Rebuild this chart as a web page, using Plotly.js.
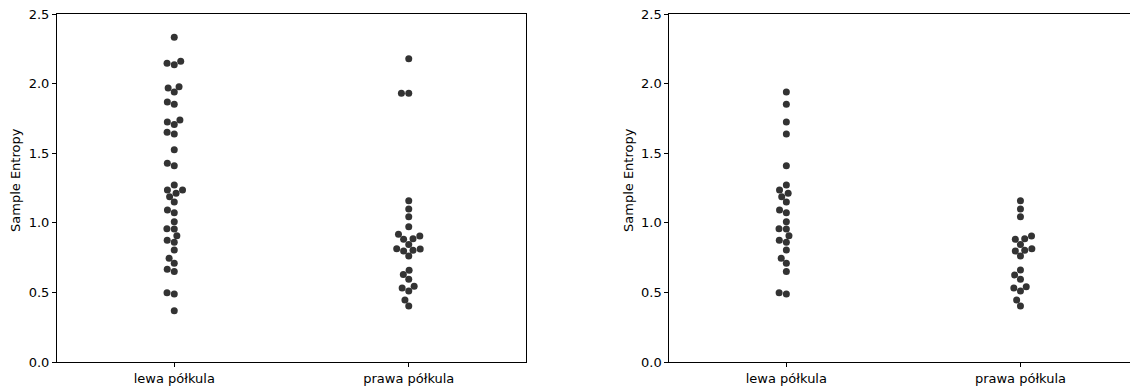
<!DOCTYPE html>
<html><head><meta charset="utf-8">
<script src="https://cdn.plot.ly/plotly-3.0.1.min.js"></script>
<style>html,body{margin:0;padding:0;overflow:hidden;background:#fff}#chart{width:1140px;height:390px}</style>
</head><body><div id="chart"></div>
<script>
// ---- data ----
const categories = ['lewa półkula', 'prawa półkula'];
const panel1Lewa = [2.333, 2.160, 2.146, 2.136, 1.978, 1.968, 1.940, 1.868, 1.851, 1.739, 1.724, 1.707, 1.650, 1.638, 1.525, 1.427, 1.410, 1.272, 1.236, 1.236, 1.212, 1.188, 1.149, 1.092, 1.073, 1.008, 0.958, 0.955, 0.907, 0.874, 0.860, 0.805, 0.745, 0.709, 0.666, 0.651, 0.498, 0.489, 0.369];
const panel1Prawa = [2.179, 1.930, 1.930, 1.159, 1.099, 1.044, 0.972, 0.917, 0.905, 0.886, 0.881, 0.845, 0.814, 0.812, 0.802, 0.797, 0.761, 0.659, 0.628, 0.594, 0.544, 0.532, 0.510, 0.445, 0.402];
const panel2Lewa = [1.940, 1.851, 1.724, 1.638, 1.410, 1.272, 1.236, 1.212, 1.188, 1.149, 1.092, 1.073, 1.008, 0.958, 0.955, 0.907, 0.874, 0.860, 0.805, 0.745, 0.709, 0.651, 0.498, 0.489];
const panel2Prawa = [1.159, 1.099, 1.044, 0.905, 0.886, 0.881, 0.845, 0.814, 0.802, 0.797, 0.761, 0.661, 0.625, 0.594, 0.541, 0.532, 0.510, 0.445, 0.402];
const yTickVals = [0, 0.5, 1.0, 1.5, 2.0, 2.5];
const yTickText = ['0.0', '0.5', '1.0', '1.5', '2.0', '2.5'];
const yTitle = 'Sample Entropy';

// ---- geometry ----
const W = 1140, H = 390;
const M = {l: 0, r: 0, t: 14, b: 28};
const dom1 = [57 / W, 526 / W];
const dom2 = [669.3 / W, 1137.5 / W];
const yRange = [0, 2.5];
const xRange = [-0.5, 1.5];
const plotH = H - M.t - M.b;
const pxY = plotH / (yRange[1] - yRange[0]);
const pxX1 = (dom1[1] - dom1[0]) * W / (xRange[1] - xRange[0]);
const pxX2 = (dom2[1] - dom2[0]) * W / (xRange[1] - xRange[0]);
const DOT = 7;
const COLOR = '#333333';

// seaborn-like beeswarm placement (pixel space), returns x in data units
function swarm(values, center, pxPerX) {
  const r = DOT / 2;
  const pts = values.map((v, i) => ({i, y: v * pxY, v}));
  pts.sort((a, b) => a.y - b.y);
  const placed = [];
  const out = new Array(values.length);
  pts.forEach((p, k) => {
    let x = 0;
    if (k > 0) {
      const nb = placed.filter(q => Math.abs(q.y - p.y) <= 2 * r);
      const cands = [0];
      nb.forEach(q => {
        const dy = p.y - q.y;
        const dx = Math.sqrt(Math.max(4 * r * r - dy * dy, 0)) * 1.05;
        cands.push(q.x - dx, q.x + dx);
      });
      cands.sort((a, b) => {
        const d = Math.abs(a) - Math.abs(b);
        if (Math.abs(d) > 1e-6) return d;
        return a - b;
      });
      for (const c of cands) {
        const ok = nb.every(q => (q.x - c) ** 2 + (q.y - p.y) ** 2 >= 4 * r * r - 1e-9);
        if (ok) { x = c; break; }
      }
    }
    placed.push({x, y: p.y});
    out[p.i] = center + x / pxPerX;
  });
  return out;
}

function tr(vals, center, pxPerX, xa, ya) {
  return {
    type: 'scatter', mode: 'markers',
    x: swarm(vals, center, pxPerX), y: vals,
    xaxis: xa, yaxis: ya,
    marker: {size: DOT, color: COLOR, line: {width: 0}},
    hoverinfo: 'y', showlegend: false
  };
}

const data = [
  tr(panel1Lewa, 0, pxX1, 'x', 'y'),
  tr(panel1Prawa, 1, pxX1, 'x', 'y'),
  tr(panel2Lewa, 0, pxX2, 'x2', 'y2'),
  tr(panel2Prawa, 1, pxX2, 'x2', 'y2')
];

const FS = 13;
const tickFont = {family: 'DejaVu Sans', size: FS, color: '#000'};
function xAxis(dom, anchor) {
  return {domain: dom, anchor, range: xRange, tickvals: [0, 1], ticktext: categories,
    showline: true, linecolor: '#000', linewidth: 1, mirror: true,
    ticks: 'outside', ticklen: 4, tickwidth: 1, tickcolor: '#000',
    showgrid: false, zeroline: false, tickfont: tickFont, fixedrange: true};
}
function yAxis(anchor) {
  return {anchor, range: yRange, tickvals: yTickVals, ticktext: yTickText,
    showline: true, linecolor: '#000', linewidth: 1, mirror: true,
    ticks: 'outside', ticklen: 4, tickwidth: 1, tickcolor: '#000',
    showgrid: false, zeroline: false, tickfont: tickFont, fixedrange: true};
}

const layout = {
  width: W, height: H, margin: M,
  paper_bgcolor: '#fff', plot_bgcolor: '#fff',
  font: {family: 'DejaVu Sans', size: FS, color: '#000'},
  xaxis: xAxis(dom1, 'y'), yaxis: yAxis('x'),
  xaxis2: xAxis(dom2, 'y2'), yaxis2: yAxis('x2'),
  annotations: [
    {text: yTitle, xref: 'paper', yref: 'paper', x: 15 / W, y: (H - M.b - 180) / plotH,
     textangle: -90, showarrow: false, xanchor: 'center', yanchor: 'middle', font: {size: FS}},
    {text: yTitle, xref: 'paper', yref: 'paper', x: 628 / W, y: (H - M.b - 180) / plotH,
     textangle: -90, showarrow: false, xanchor: 'center', yanchor: 'middle', font: {size: FS}}
  ]
};

Plotly.newPlot('chart', data, layout, {displayModeBar: false, staticPlot: true});
</script>
</body></html>
